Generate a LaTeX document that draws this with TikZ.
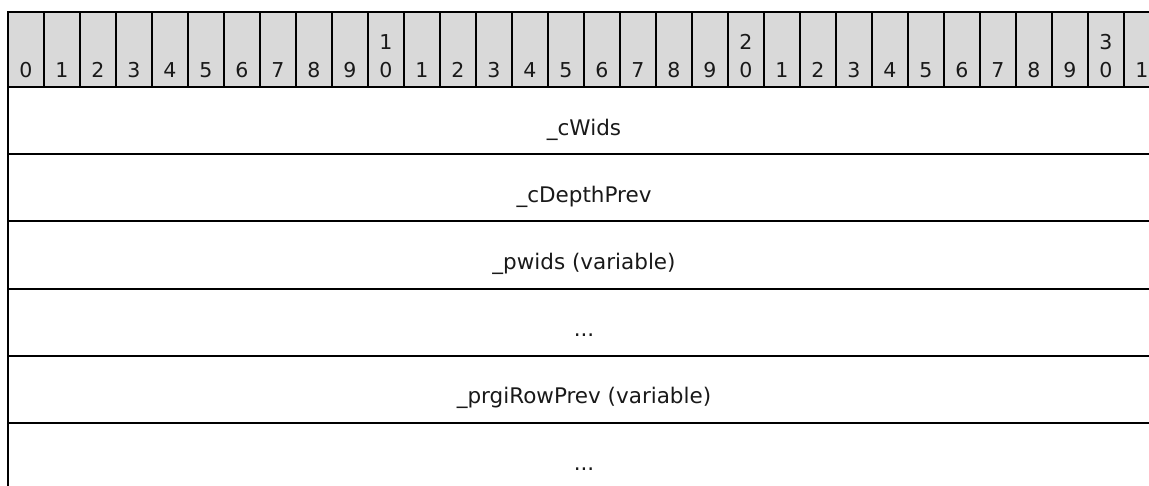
\documentclass[tikz,border=0pt]{standalone}
\usepackage{fontspec}
\setmainfont{DejaVu Sans}
\begin{document}
\begin{tikzpicture}[x=1pt,y=-1pt,
  hdr/.style={draw=black, line width=2pt, fill=hdrgray, minimum width=36pt, minimum height=75.2pt, anchor=north west, inner sep=0pt, outer sep=0pt},
  rowbox/.style={draw=black, line width=2pt, minimum width=1152pt, minimum height=67.3pt, anchor=north west, inner sep=0pt, outer sep=0pt},
  digit/.style={anchor=base, inner sep=0pt, font=\fontsize{20.5}{24}\selectfont, text=black!90},
  lbl/.style={anchor=base, inner sep=0pt, font=\fontsize{21.5}{26}\selectfont, text=black!90}]
\definecolor{hdrgray}{HTML}{D9D9D9}
\useasboundingbox (0,0) rectangle (1149,485);
\clip (0,0) rectangle (1149,485);
% header cells
\foreach \i in {0,...,31} {
  \node[hdr] (h\i) at ({8+36*\i},11.6) {};
}
\foreach \i in {0,...,9} {
  \node[digit] (d\i) at ({26+36*\i},77) {\i};
}
\foreach \i/\t/\o in {10/1/0,11/1/1,12/1/2,13/1/3,14/1/4,15/1/5,16/1/6,17/1/7,18/1/8,19/1/9,
                      20/2/0,21/2/1,22/2/2,23/2/3,24/2/4,25/2/5,26/2/6,27/2/7,28/2/8,29/2/9,
                      30/3/0,31/3/1} {
  \ifnum\o=0
    \node[digit] (dt\i) at ({26+36*\i},49) {\t};
  \fi
  \node[digit] (d\i) at ({26+36*\i},77) {\o};
}
% rows
\node[rowbox] (r1) at (8,86.8) {};
\node[rowbox] (r2) at (8,154.1) {};
\node[rowbox] (r3) at (8,221.4) {};
\node[rowbox] (r4) at (8,288.7) {};
\node[rowbox] (r5) at (8,356.0) {};
\node[rowbox] (r6) at (8,423.3) {};
\node[lbl] (t1) at (584,135) {\_cWids};
\node[lbl] (t2) at (584,202) {\_cDepthPrev};
\node[lbl] (t3) at (584,269) {\_pwids (variable)};
\node[lbl] (t4) at (584,336) {...};
\node[lbl] (t5) at (584,403) {\_prgiRowPrev (variable)};
\node[lbl] (t6) at (584,470) {...};
\end{tikzpicture}
\end{document}
